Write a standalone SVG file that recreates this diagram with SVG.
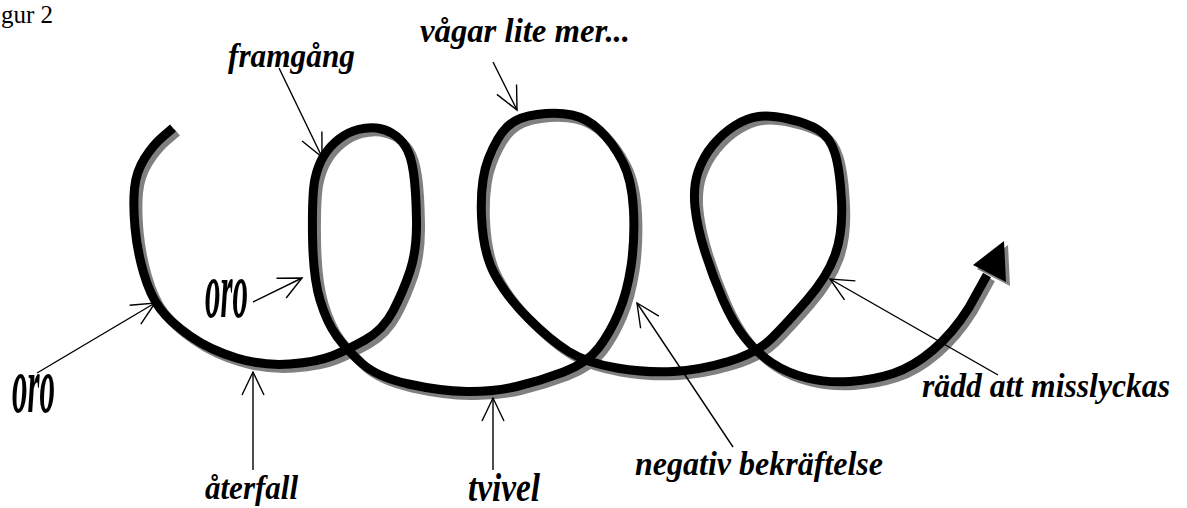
<svg xmlns="http://www.w3.org/2000/svg" width="1187" height="508" viewBox="0 0 1187 508">
<style>
.lbl{font-family:"Liberation Serif","Times New Roman",serif;font-style:italic;font-weight:bold;fill:#000;}
.cap{font-family:"Liberation Serif","Times New Roman",serif;font-size:25px;fill:#000;}
.ann{stroke:#000;stroke-width:1.4;fill:none;marker-end:url(#open);}
.curve{fill:none;stroke-width:9;stroke-linejoin:round;stroke-linecap:butt;}
</style>
<defs>
<marker id="open" markerUnits="userSpaceOnUse" markerWidth="30" markerHeight="30" viewBox="-26 -14 30 28" refX="0" refY="0" orient="auto">
<path d="M-23,-11 L0,0 L-23,11" fill="none" stroke="#000" stroke-width="1.4"/>
</marker>
<path id="spiral" d="M173,128 L163,136.5 Q153,145 144.5,158.5 Q136,172 134.5,188.5 Q133,205 135,227.5 Q137,250 143.5,272.5 Q150,295 160,308.5 Q170,322 190,336 Q210,350 236.5,358 Q263,366 290,364 Q317,362 332,356 Q347,350 365,340 Q383,330 393,311 Q403,292 410,271 Q417,250 416.5,220 Q416,190 413.5,172.5 Q411,155 405.5,146.5 Q400,138 392.5,133.5 Q385,129 376.5,128 Q368,127 358,129.5 Q348,132 339,139 Q330,146 324,155.5 Q318,165 315,179 Q312,193 312.5,235 Q313,277 320,300 Q327,323 337,336.5 Q347,350 362,363.5 Q377,377 408.5,384 Q440,391 466.5,391.5 Q493,392 516.5,386.5 Q540,381 563.5,372 Q587,363 598.5,348 Q610,333 618.5,313 Q627,293 631,266.5 Q635,240 633.5,210 Q632,180 622.5,161.5 Q613,143 600,130.5 Q587,118 572,115 Q557,112 537,114.5 Q517,117 507,127 Q497,137 488.5,158.5 Q480,180 481.5,216.5 Q483,253 495,275 Q507,297 528.5,318.5 Q550,340 568.5,351.5 Q587,363 617,368 Q647,373 673.5,371.5 Q700,370 728.5,361.5 Q757,353 772,338 Q787,323 807,300 Q827,277 835,255 Q843,233 841.5,201.5 Q840,170 835,153.5 Q830,137 818.5,130 Q807,123 788.5,119 Q770,115 758.5,116.5 Q747,118 735,125.5 Q723,133 713,145 Q703,157 698,172 Q693,187 695,207 Q697,227 705,252 Q713,277 723,300 Q733,323 745,338 Q757,353 772,363 Q787,373 807,378 Q827,383 850,381.5 Q873,380 893,373.5 Q913,367 933,350 Q953,333 969,307.5 L987,275"/>
</defs>
<rect width="1187" height="508" fill="#fff"/>
<g id="spiral-line">
<g transform="translate(4,4)">
<use href="#spiral" class="curve" stroke="#808080"/>
<polygon points="1004,241 973,265 1006,282" fill="#808080"/>
</g>
<use href="#spiral" class="curve" stroke="#000"/>
<polygon points="1004,241 973,265 1006,282" fill="#000"/>
</g>
<g id="connectors">
<line class="ann" x1="279" y1="68" x2="322" y2="157"/>
<line class="ann" x1="493" y1="62" x2="517" y2="110"/>
<line class="ann" x1="37" y1="373" x2="155" y2="303"/>
<line class="ann" x1="253" y1="302" x2="302" y2="278"/>
<line class="ann" x1="253" y1="470" x2="253" y2="372"/>
<line class="ann" x1="493" y1="470" x2="493" y2="398"/>
<line class="ann" x1="733" y1="447" x2="637" y2="303"/>
<line class="ann" x1="998" y1="375" x2="830" y2="279"/>
</g>
<g id="caption"><text class="cap" x="1" y="23">gur 2</text></g>
<g id="framgang"><text class="lbl" x="228" y="67" font-size="34" textLength="127" lengthAdjust="spacingAndGlyphs">framgång</text></g>
<g id="vagar"><text class="lbl" x="420" y="42" font-size="34" textLength="210" lengthAdjust="spacingAndGlyphs">vågar lite mer...</text></g>
<g id="oro1"><text class="lbl" x="12" y="412" font-size="80" textLength="43" lengthAdjust="spacingAndGlyphs">oro</text></g>
<g id="oro2"><text class="lbl" x="205" y="317" font-size="80" textLength="43" lengthAdjust="spacingAndGlyphs">oro</text></g>
<g id="aterfall"><text class="lbl" x="205" y="499" font-size="34" textLength="93" lengthAdjust="spacingAndGlyphs">återfall</text></g>
<g id="tvivel"><text class="lbl" x="468" y="501" font-size="40" textLength="72" lengthAdjust="spacingAndGlyphs">tvivel</text></g>
<g id="negativ"><text class="lbl" x="635" y="475" font-size="34" textLength="248" lengthAdjust="spacingAndGlyphs">negativ bekräftelse</text></g>
<g id="radd"><text class="lbl" x="922" y="397" font-size="34" textLength="248" lengthAdjust="spacingAndGlyphs">rädd att misslyckas</text></g>
</svg>
